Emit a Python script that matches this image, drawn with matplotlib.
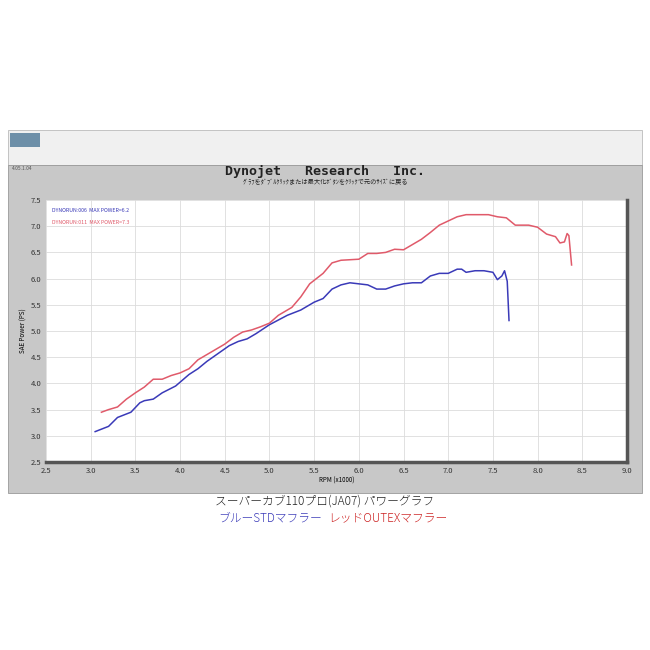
import matplotlib.pyplot as plt
from matplotlib.patches import Rectangle

plt.rcParams['font.family'] = ['Noto Sans CJK JP', 'DejaVu Sans']

# blue run (STD muffler)
blue_rpm = [3.05, 3.2, 3.3, 3.45, 3.55, 3.6, 3.7, 3.8, 3.95, 4.1, 4.2, 4.3, 4.45, 4.55,
            4.65, 4.75, 4.85, 5.0, 5.2, 5.35, 5.5, 5.6, 5.7, 5.8, 5.9, 6.0, 6.1, 6.2,
            6.3, 6.4, 6.5, 6.6, 6.7, 6.8, 6.9, 7.0, 7.1, 7.15, 7.2, 7.3, 7.4, 7.5,
            7.55, 7.6, 7.63, 7.66, 7.68]
blue_ps = [3.08, 3.18, 3.35, 3.45, 3.63, 3.67, 3.70, 3.82, 3.95, 4.17, 4.28, 4.42, 4.60, 4.72,
           4.80, 4.85, 4.95, 5.12, 5.30, 5.40, 5.55, 5.62, 5.80, 5.88, 5.92, 5.90, 5.88, 5.80,
           5.80, 5.86, 5.90, 5.92, 5.92, 6.05, 6.10, 6.10, 6.18, 6.18, 6.12, 6.15, 6.15, 6.12,
           5.98, 6.05, 6.15, 5.95, 5.20]

# red run (OUTEX muffler)
red_rpm = [3.12, 3.2, 3.3, 3.4, 3.5, 3.6, 3.7, 3.8, 3.9, 4.0, 4.1, 4.2, 4.3, 4.4, 4.5, 4.6,
           4.7, 4.8, 4.9, 5.0, 5.1, 5.25, 5.35, 5.45, 5.6, 5.7, 5.8, 6.0, 6.1, 6.2, 6.3,
           6.4, 6.5, 6.6, 6.7, 6.8, 6.9, 7.0, 7.1, 7.2, 7.3, 7.45, 7.55, 7.65, 7.75, 7.9,
           8.0, 8.1, 8.2, 8.25, 8.3, 8.33, 8.35, 8.38]
red_ps = [3.45, 3.50, 3.55, 3.70, 3.82, 3.93, 4.08, 4.08, 4.15, 4.20, 4.28, 4.45, 4.55, 4.65,
          4.75, 4.88, 4.98, 5.02, 5.08, 5.15, 5.30, 5.45, 5.65, 5.90, 6.10, 6.30, 6.35, 6.37,
          6.48, 6.48, 6.50, 6.56, 6.55, 6.65, 6.75, 6.88, 7.02, 7.10, 7.18, 7.22, 7.22, 7.22,
          7.18, 7.16, 7.02, 7.02, 6.98, 6.85, 6.80, 6.68, 6.70, 6.86, 6.82, 6.26]

xticks = [2.5, 3.0, 3.5, 4.0, 4.5, 5.0, 5.5, 6.0, 6.5, 7.0, 7.5, 8.0, 8.5, 9.0]
yticks = [2.5, 3.0, 3.5, 4.0, 4.5, 5.0, 5.5, 6.0, 6.5, 7.0, 7.5]

fig = plt.figure(figsize=(6.5, 6.5), dpi=100)
W, H = 650, 650

def box(x0, y0, x1, y1, **kw):
    fig.patches.append(Rectangle((x0 / W, 1 - y1 / H), (x1 - x0) / W, (y1 - y0) / H,
                                 transform=fig.transFigure, zorder=-5, **kw))

# window chrome
box(8, 130, 642, 165, facecolor='#f0f0f0', edgecolor='#bbbbbb', lw=0.6)
box(8, 165, 642, 493, facecolor='#c8c8c8', edgecolor='#999999', lw=0.6)
box(10, 133, 40, 147, facecolor='#6d8fa8', edgecolor='none')

fig.text(12 / W, 1 - 168 / H, '4.05.1.04', fontsize=3.5, color='#555555', va='center')
fig.text(325 / W, 1 - 171 / H, 'Dynojet   Research   Inc.', fontsize=9.5, ha='center',
         va='center', family='DejaVu Sans Mono', fontweight='bold', color='#222222')
fig.text(325 / W, 1 - 182 / H, 'ｸﾞﾗﾌをﾀﾞﾌﾞﾙｸﾘｯｸまたは最大化ﾎﾞﾀﾝをｸﾘｯｸで元のｻｲｽﾞに戻る',
         fontsize=4.5, ha='center', va='center', color='#222222')

ax = fig.add_axes([46 / W, 1 - 462 / H, 581 / W, 262 / H])
ax.set_zorder(2)
ax.plot(blue_rpm, blue_ps, color='#3a3ab8', lw=1.1)
ax.plot(red_rpm, red_ps, color='#e05a6a', lw=1.1)
ax.set_xlim(2.5, 9.0)
ax.set_ylim(2.5, 7.5)
ax.set_xticks(xticks)
ax.set_yticks(yticks)
ax.set_xticklabels([f'{v:.1f}' for v in xticks])
ax.set_yticklabels([f'{v:.1f}' for v in yticks])
ax.tick_params(labelsize=5.5, length=0, colors='#333333')
ax.grid(color='#dcdcdc', lw=0.6)
for s in ax.spines.values():
    s.set_visible(False)
for side in ('bottom', 'right'):
    ax.spines[side].set_visible(True)
    ax.spines[side].set_color('#555555')
    ax.spines[side].set_linewidth(2.5)
ax.set_xlabel('RPM (x1000)', fontsize=4.5, labelpad=1)
ax.set_ylabel('SAE Power (PS)', fontsize=4.5, labelpad=2)
ax.text(0.01, 0.97, 'DYNORUN:006  MAX POWER=6.2', transform=ax.transAxes, fontsize=3.8,
        color='#3a3ab8', va='top')
ax.text(0.01, 0.925, 'DYNORUN:011  MAX POWER=7.3', transform=ax.transAxes, fontsize=3.8,
        color='#e05a6a', va='top')

fig.text(325 / W, 1 - 501 / H, 'スーパーカブ110プロ(JA07) パワーグラフ', fontsize=8.5,
         ha='center', va='center', color='#222222', fontweight='light')
fig.text(270 / W, 1 - 518 / H, 'ブルーSTDマフラー', fontsize=8.5, ha='center',
         va='center', color='#3a3ab8', fontweight='light')
fig.text(388 / W, 1 - 518 / H, 'レッドOUTEXマフラー', fontsize=8.5, ha='center',
         va='center', color='#cc2222', fontweight='light')

fig.savefig('out.png', dpi=100)
